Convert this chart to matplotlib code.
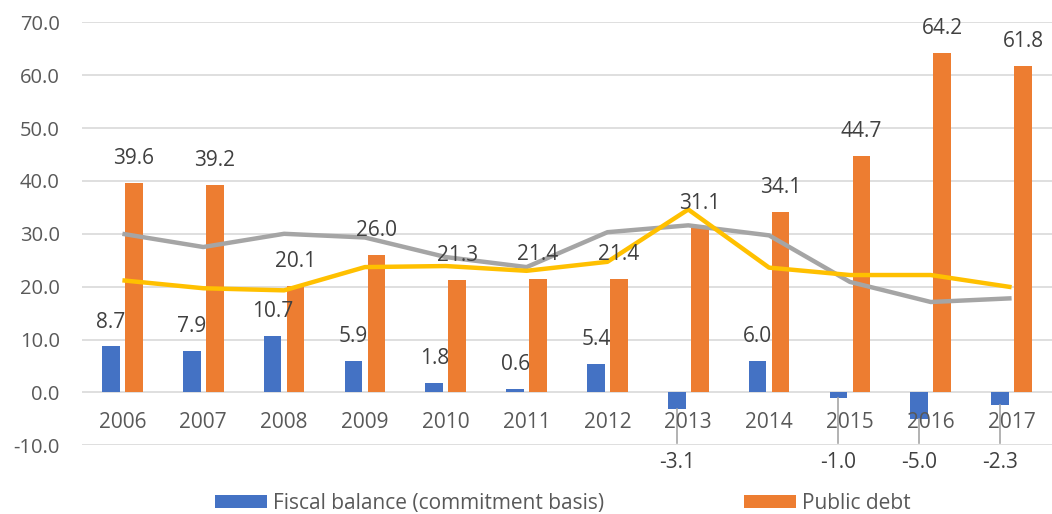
import numpy as np
import matplotlib
matplotlib.use("Agg")
import matplotlib.pyplot as plt
from matplotlib.patches import Patch

# ── data ────────────────────────────────────────────────────────────────────
years = ["2006", "2007", "2008", "2009", "2010", "2011",
         "2012", "2013", "2014", "2015", "2016", "2017"]
fiscal_balance = [8.7, 7.9, 10.7, 5.9, 1.8, 0.6, 5.4, -3.1, 6.0, -1.0, -5.0, -2.3]
public_debt = [39.6, 39.2, 20.1, 26.0, 21.3, 21.4, 21.4, 31.1, 34.1, 44.7, 64.2, 61.8]
gray_series = [30.0, 27.5, 30.0, 29.3, 25.6, 23.7, 30.3, 31.6, 29.7, 20.9, 17.1, 17.8]
yellow_series = [21.2, 19.7, 19.3, 23.7, 23.9, 23.0, 24.7, 34.6, 23.6, 22.2, 22.2, 19.9]

BLUE = "#4472C4"
ORANGE = "#ED7D31"
GRAY = "#A5A5A5"
YELLOW = "#FFC000"
GRID = "#D9D9D9"
TICK_COL = "#595959"
LABEL_COL = "#404040"
FS = 15

plt.rcParams["font.family"] = ["Open Sans", "DejaVu Sans"]

fig = plt.figure(figsize=(10.52, 5.14), dpi=100)
ax = fig.add_axes([82 / 1052, 0.1337, (1052 - 82) / 1052, 0.8229])

x = np.arange(len(years))
off = 0.142
w = 0.22

ax.bar(x - off, fiscal_balance, width=w, color=BLUE, zorder=2)
ax.bar(x + off, public_debt, width=w, color=ORANGE, zorder=2)
ax.plot(x, gray_series, color=GRAY, lw=3.2, zorder=3, solid_capstyle="butt")
ax.plot(x, yellow_series, color=YELLOW, lw=3.2, zorder=4, solid_capstyle="butt")

ax.set_xlim(-0.5, len(years) - 0.5)
ax.set_ylim(-10, 70)
ax.set_yticks(np.arange(-10, 71, 10))
ax.set_yticklabels([f"{v:.1f}" for v in np.arange(-10, 71, 10)])
ax.yaxis.grid(True, color=GRID, lw=1.2, zorder=0)
ax.set_axisbelow(True)
ax.set_xticks([])
ax.tick_params(axis="y", length=0, pad=16, labelsize=FS - 0.5, labelcolor=TICK_COL)
for s in ax.spines.values():
    s.set_visible(False)

# year labels sit just under the zero line
for i, yr in enumerate(years):
    ax.annotate(yr, (i, 0), xytext=(0, -22), textcoords="offset points",
                ha="center", va="center", fontsize=FS, color=TICK_COL, zorder=6)

# data labels
for i, v in enumerate(public_debt):
    ax.annotate(f"{v:.1f}", (i + off, v), xytext=(0, 17.5), textcoords="offset points",
                ha="center", va="center", fontsize=FS, color=LABEL_COL, zorder=6)

for i, v in enumerate(fiscal_balance):
    if v >= 0:
        ax.annotate(f"{v:.1f}", (i - off, v), xytext=(0, 17.5), textcoords="offset points",
                    ha="center", va="center", fontsize=FS, color=LABEL_COL, zorder=6)
    else:
        # leader line down to the label below the chart
        ax.plot([i - off, i - off], [v, -9.6], color="#A6A6A6", lw=1.2, zorder=5,
                clip_on=False)
        ax.annotate(f"{v:.1f}", (i - off, -13.3), ha="center", va="center",
                    fontsize=FS, color=LABEL_COL, annotation_clip=False, zorder=6)

handles = [Patch(facecolor=BLUE), Patch(facecolor=ORANGE)]
fig.legend(handles, ["Fiscal balance (commitment basis)", "Public debt"],
           loc="center", bbox_to_anchor=(563 / 1052, 0.021), ncol=2, frameon=False,
           fontsize=FS, labelcolor=TICK_COL, handlelength=2.5, handleheight=0.6,
           handletextpad=0.3, columnspacing=6.7)

fig.savefig("out.png", dpi=100)
